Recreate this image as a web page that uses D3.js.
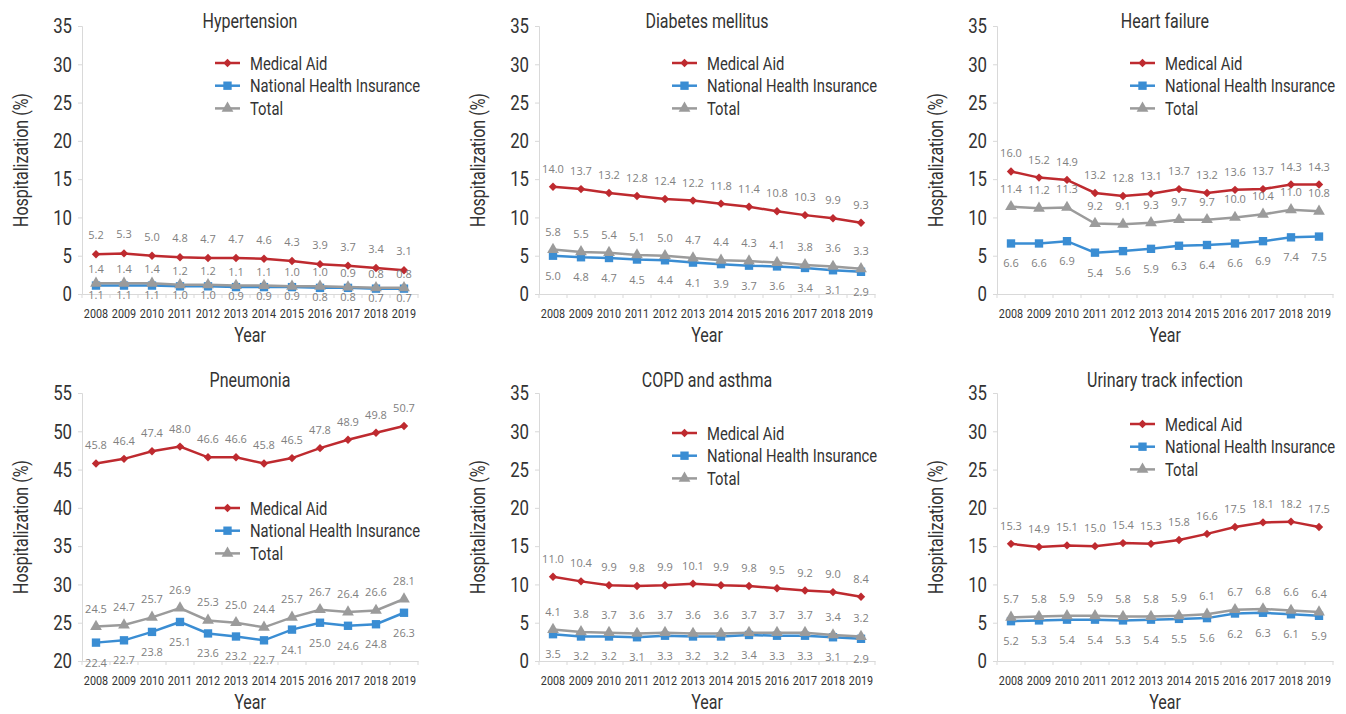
<!DOCTYPE html>
<html>
<head>
<meta charset="utf-8">
<script src="https://cdn.jsdelivr.net/npm/d3@7/dist/d3.min.js"></script>
<style>
  body { margin: 0; background: #fff; }
  svg { display: block; }
  .cond { font-family: Roboto, "Liberation Sans", sans-serif; }
  .lbl { font-family: "Open Sans", "Noto Sans", sans-serif; font-size: 11px; fill: #808080; }
</style>
</head>
<body>
<svg width="1346" height="714"></svg>
<script>
// years on the x axis
const years = ["2008","2009","2010","2011","2012","2013","2014","2015","2016","2017","2018","2019"]
const seriesNames = ["Medical Aid", "National Health Insurance", "Total"]
const panelTitles = ["Hypertension", "Diabetes mellitus", "Heart failure", "Pneumonia", "COPD and asthma", "Urinary track infection"]
const yMin = [0, 0, 0, 20, 0, 0]
const yMax = [35, 35, 35, 55, 35, 35]

// Medical Aid
const medicalAid = [
  [5.2,5.3,5.0,4.8,4.7,4.7,4.6,4.3,3.9,3.7,3.4,3.1],
  [14.0,13.7,13.2,12.8,12.4,12.2,11.8,11.4,10.8,10.3,9.9,9.3],
  [16.0,15.2,14.9,13.2,12.8,13.1,13.7,13.2,13.6,13.7,14.3,14.3],
  [45.8,46.4,47.4,48.0,46.6,46.6,45.8,46.5,47.8,48.9,49.8,50.7],
  [11.0,10.4,9.9,9.8,9.9,10.1,9.9,9.8,9.5,9.2,9.0,8.4],
  [15.3,14.9,15.1,15.0,15.4,15.3,15.8,16.6,17.5,18.1,18.2,17.5]
]
// National Health Insurance
const nhi = [
  [1.1,1.1,1.1,1.0,1.0,0.9,0.9,0.9,0.8,0.8,0.7,0.7],
  [5.0,4.8,4.7,4.5,4.4,4.1,3.9,3.7,3.6,3.4,3.1,2.9],
  [6.6,6.6,6.9,5.4,5.6,5.9,6.3,6.4,6.6,6.9,7.4,7.5],
  [22.4,22.7,23.8,25.1,23.6,23.2,22.7,24.1,25.0,24.6,24.8,26.3],
  [3.5,3.2,3.2,3.1,3.3,3.2,3.2,3.4,3.3,3.3,3.1,2.9],
  [5.2,5.3,5.4,5.4,5.3,5.4,5.5,5.6,6.2,6.3,6.1,5.9]
]
// Total
const total = [
  [1.4,1.4,1.4,1.2,1.2,1.1,1.1,1.0,1.0,0.9,0.8,0.8],
  [5.8,5.5,5.4,5.1,5.0,4.7,4.4,4.3,4.1,3.8,3.6,3.3],
  [11.4,11.2,11.3,9.2,9.1,9.3,9.7,9.7,10.0,10.4,11.0,10.8],
  [24.5,24.7,25.7,26.9,25.3,25.0,24.4,25.7,26.7,26.4,26.6,28.1],
  [4.1,3.8,3.7,3.6,3.7,3.6,3.6,3.7,3.7,3.7,3.4,3.2],
  [5.7,5.8,5.9,5.9,5.8,5.8,5.9,6.1,6.7,6.8,6.6,6.4]
]

// layout
const colX = [82, 539, 997], rowY = [26, 393]
const titleY = [2, -6]
const plotW = 336, plotH = 268
const legendTop = [37, 37, 37, 115, 40, 31]
const colors = ["#be2a2f", "#3a8dd3", "#9b9b9b"]
const symbols = [d3.symbolDiamond2, d3.symbolSquare, d3.symbolTriangle]
const symSize = [45, 70, 60]
// label offsets (baseline relative to point): MA up, NHI down, Total up
const labelDy = [[-15, 13, -10], [-14, 24, -14], [-14, 24, -14], [-14, 24, -14], [-14, 24, -14], [-14, 24, -14]]
const squeeze = 0.8   // the original uses a condensed face

const svg = d3.select("svg")

panelTitles.forEach((title, p) => {
  const row = Math.floor(p / 3)
  const g = svg.append("g")
    .attr("transform", "translate(" + colX[p % 3] + "," + rowY[row] + ")")

  const x = d3.scalePoint().domain(years).range([0, plotW]).padding(0.5)
  const xb = d3.scaleBand().domain(years).range([0, plotW])
  const y = d3.scaleLinear().domain([yMin[p], yMax[p]]).range([plotH, 0])

  // y axis
  const yAxis = d3.axisLeft(y).tickValues(d3.range(yMin[p], yMax[p] + 1, 5)).tickSize(4).tickPadding(6)
  const ya = g.append("g").call(yAxis)
  ya.selectAll("path, line").attr("stroke", "#d9d9d9")
  ya.selectAll("text").attr("class", "cond").style("font-size", "21px").attr("fill", "#333")

  // x axis
  const xa = g.append("g").attr("transform", "translate(0," + plotH + ")")
    .call(d3.axisBottom(xb).tickSize(0).tickPadding(14))
  xa.select("path").attr("stroke", "#d9d9d9")
  xa.selectAll("text").attr("class", "cond").style("font-size", "13.5px").attr("fill", "#333")
  xa.selectAll("line.sep").data(years.concat(["end"])).enter().append("line")
    .attr("class", "sep")
    .attr("x1", (d, i) => i * xb.step()).attr("x2", (d, i) => i * xb.step())
    .attr("y1", 0).attr("y2", 4).attr("stroke", "#d9d9d9")

  // titles
  g.append("text").attr("class", "cond").attr("x", 168).attr("y", titleY[row])
    .attr("text-anchor", "middle").style("font-size", "20px").attr("fill", "#333").text(title)
  g.append("text").attr("class", "cond").attr("x", 168).attr("y", plotH + 48)
    .attr("text-anchor", "middle").style("font-size", "20px").attr("fill", "#333").text("Year")
  g.append("text").attr("class", "cond")
    .attr("transform", "translate(-54," + (plotH / 2) + ") rotate(-90)")
    .attr("text-anchor", "middle").style("font-size", "20px").attr("fill", "#333").text("Hospitalization (%)")

  const series = [medicalAid[p], nhi[p], total[p]]
  const line = d3.line().x((d, i) => x(years[i])).y(d => y(d))

  series.forEach((vals, s) => {
    g.append("path").datum(vals).attr("d", line)
      .attr("fill", "none").attr("stroke", colors[s]).attr("stroke-width", 2.5)
    g.selectAll(".pt" + s).data(vals).enter().append("path")
      .attr("class", "pt" + s)
      .attr("d", d3.symbol().type(symbols[s]).size(symSize[s]))
      .attr("transform", (d, i) => "translate(" + x(years[i]) + "," + y(d) + ")")
      .attr("fill", colors[s])
  })
  series.forEach((vals, s) => {
    g.selectAll(".lb" + s).data(vals).enter().append("text")
      .attr("class", "lbl")
      .attr("x", (d, i) => x(years[i]))
      .attr("y", d => y(d) + labelDy[p][s])
      .attr("text-anchor", "middle")
      .text(d => d.toFixed(1))
  })

  // legend
  const lg = g.append("g").attr("transform", "translate(133," + legendTop[p] + ")")
  seriesNames.forEach((name, s) => {
    const r = lg.append("g").attr("transform", "translate(0," + (s * 22.7) + ")")
    r.append("line").attr("x1", 0).attr("x2", 25).attr("stroke", colors[s]).attr("stroke-width", 2.5)
    r.append("path").attr("d", d3.symbol().type(symbols[s]).size(symSize[s]))
      .attr("transform", "translate(12.5,0)").attr("fill", colors[s])
    r.append("text").attr("class", "cond").attr("x", 35).attr("y", 6.5)
      .style("font-size", "18.5px").attr("fill", "#333").text(name)
  })
})

// narrow the text horizontally around its own anchor
svg.selectAll("text.cond").each(function () {
  const t = d3.select(this)
  const ax = +t.attr("x") || 0
  const tr = t.attr("transform") || ""
  t.attr("transform", tr + " translate(" + ax + ",0) scale(" + squeeze + ",1) translate(" + (-ax) + ",0)")
})
</script>
</body>
</html>
